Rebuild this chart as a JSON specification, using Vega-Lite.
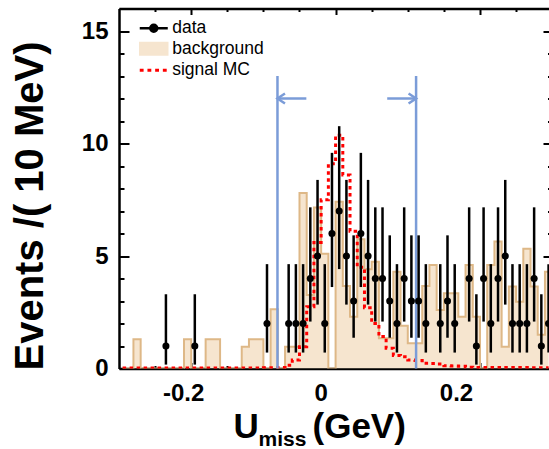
{
  "$schema": "https://vega.github.io/schema/vega-lite/v6.json",
  "width": 430,
  "height": 360,
  "autosize": {"type": "none"},
  "padding": {"left": 119, "top": 8.5, "right": 0, "bottom": 80.5},
  "config": {
    "view": {"stroke": null},
    "font": "Liberation Sans",
    "axis": {
      "grid": false,
      "domainColor": "black",
      "tickColor": "black",
      "domainWidth": 2.5,
      "tickWidth": 2,
      "labelFont": "Liberation Sans",
      "labelFontWeight": "bold",
      "labelFontSize": 24,
      "labelColor": "black",
      "titleFont": "Liberation Sans",
      "titleFontWeight": "bold",
      "titleColor": "black"
    }
  },
  "datasets": {
    "hist": [
      {"x": -0.295, "n": 0, "lo": null, "hi": null, "bkg": 0, "sig": 0.02},
      {"x": -0.285, "n": 0, "lo": null, "hi": null, "bkg": 0, "sig": 0.02},
      {"x": -0.275, "n": 0, "lo": null, "hi": null, "bkg": 1.3, "sig": 0.02},
      {"x": -0.265, "n": 0, "lo": null, "hi": null, "bkg": 0, "sig": 0.02},
      {"x": -0.255, "n": 0, "lo": null, "hi": null, "bkg": 0, "sig": 0.02},
      {"x": -0.245, "n": 0, "lo": null, "hi": null, "bkg": 0, "sig": 0.02},
      {"x": -0.235, "n": 1, "lo": 0.173, "hi": 3.3, "bkg": 0, "sig": 0.02},
      {"x": -0.225, "n": 0, "lo": null, "hi": null, "bkg": 0, "sig": 0.02},
      {"x": -0.215, "n": 0, "lo": null, "hi": null, "bkg": 0, "sig": 0.02},
      {"x": -0.205, "n": 0, "lo": null, "hi": null, "bkg": 1.3, "sig": 0.02},
      {"x": -0.195, "n": 1, "lo": 0.173, "hi": 3.3, "bkg": 0, "sig": 0.02},
      {"x": -0.185, "n": 0, "lo": null, "hi": null, "bkg": 0, "sig": 0.02},
      {"x": -0.175, "n": 0, "lo": null, "hi": null, "bkg": 1.3, "sig": 0.02},
      {"x": -0.165, "n": 0, "lo": null, "hi": null, "bkg": 1.3, "sig": 0.02},
      {"x": -0.155, "n": 0, "lo": null, "hi": null, "bkg": 0, "sig": 0.02},
      {"x": -0.145, "n": 0, "lo": null, "hi": null, "bkg": 0, "sig": 0.02},
      {"x": -0.135, "n": 0, "lo": null, "hi": null, "bkg": 0, "sig": 0.02},
      {"x": -0.125, "n": 0, "lo": null, "hi": null, "bkg": 0.97, "sig": 0.02},
      {"x": -0.115, "n": 0, "lo": null, "hi": null, "bkg": 1.3, "sig": 0.02},
      {"x": -0.105, "n": 0, "lo": null, "hi": null, "bkg": 1.3, "sig": 0.02},
      {"x": -0.095, "n": 2, "lo": 0.708, "hi": 4.638, "bkg": 0, "sig": 0.03},
      {"x": -0.085, "n": 0, "lo": null, "hi": null, "bkg": 2.63, "sig": 0.03},
      {"x": -0.075, "n": 0, "lo": null, "hi": null, "bkg": 0, "sig": 0.05},
      {"x": -0.065, "n": 2, "lo": 0.708, "hi": 4.638, "bkg": 0.97, "sig": 0.15},
      {"x": -0.055, "n": 2, "lo": 0.708, "hi": 4.638, "bkg": 0.97, "sig": 0.38},
      {"x": -0.045, "n": 2, "lo": 0.708, "hi": 4.638, "bkg": 7.8, "sig": 0.97},
      {"x": -0.035, "n": 4, "lo": 2.086, "hi": 7.163, "bkg": 3.27, "sig": 2.75},
      {"x": -0.025, "n": 5, "lo": 2.84, "hi": 8.382, "bkg": 7.16, "sig": 5.6},
      {"x": -0.015, "n": 2, "lo": 0.708, "hi": 4.638, "bkg": 5.1, "sig": 7.5},
      {"x": -0.005, "n": 6, "lo": 3.62, "hi": 9.584, "bkg": 0, "sig": 9.1},
      {"x": 0.005, "n": 7, "lo": 4.419, "hi": 10.77, "bkg": 7.41, "sig": 10.37},
      {"x": 0.015, "n": 5, "lo": 2.84, "hi": 8.382, "bkg": 3.67, "sig": 8.6},
      {"x": 0.025, "n": 3, "lo": 1.367, "hi": 5.918, "bkg": 2.3, "sig": 6.1},
      {"x": 0.035, "n": 6, "lo": 3.62, "hi": 9.584, "bkg": 5.74, "sig": 4.5},
      {"x": 0.045, "n": 5, "lo": 2.84, "hi": 8.382, "bkg": 4.41, "sig": 2.7},
      {"x": 0.055, "n": 4, "lo": 2.086, "hi": 7.163, "bkg": 4.75, "sig": 2.0},
      {"x": 0.065, "n": 4, "lo": 2.086, "hi": 7.163, "bkg": 1.34, "sig": 1.42},
      {"x": 0.075, "n": 3, "lo": 1.367, "hi": 5.918, "bkg": 1.34, "sig": 0.9},
      {"x": 0.085, "n": 2, "lo": 0.708, "hi": 4.638, "bkg": 4.3, "sig": 0.58},
      {"x": 0.095, "n": 4, "lo": 2.086, "hi": 7.163, "bkg": 1.9, "sig": 0.52},
      {"x": 0.105, "n": 3, "lo": 1.367, "hi": 5.918, "bkg": 1.12, "sig": 0.38},
      {"x": 0.115, "n": 3, "lo": 1.367, "hi": 5.918, "bkg": 1.12, "sig": 0.36},
      {"x": 0.125, "n": 2, "lo": 0.708, "hi": 4.638, "bkg": 3.67, "sig": 0.23},
      {"x": 0.135, "n": 0, "lo": null, "hi": null, "bkg": 4.6, "sig": 0.22},
      {"x": 0.145, "n": 2, "lo": 0.708, "hi": 4.638, "bkg": 2.6, "sig": 0.2},
      {"x": 0.155, "n": 3, "lo": 1.367, "hi": 5.918, "bkg": 3.34, "sig": 0.12},
      {"x": 0.165, "n": 2, "lo": 0.708, "hi": 4.638, "bkg": 3.34, "sig": 0.11},
      {"x": 0.175, "n": 0, "lo": null, "hi": null, "bkg": 2.3, "sig": 0.1},
      {"x": 0.185, "n": 4, "lo": 2.086, "hi": 7.163, "bkg": 4.6, "sig": 0.06},
      {"x": 0.195, "n": 1, "lo": 0.173, "hi": 3.3, "bkg": 2.3, "sig": 0.05},
      {"x": 0.205, "n": 4, "lo": 2.086, "hi": 7.163, "bkg": 0, "sig": 0.05},
      {"x": 0.215, "n": 2, "lo": 0.708, "hi": 4.638, "bkg": 4.6, "sig": 0.05},
      {"x": 0.225, "n": 4, "lo": 2.086, "hi": 7.163, "bkg": 5.64, "sig": 0.05},
      {"x": 0.235, "n": 5, "lo": 2.84, "hi": 8.382, "bkg": 0.97, "sig": 0.04},
      {"x": 0.245, "n": 2, "lo": 0.708, "hi": 4.638, "bkg": 3.64, "sig": 0.04},
      {"x": 0.255, "n": 2, "lo": 0.708, "hi": 4.638, "bkg": 2.97, "sig": 0.04},
      {"x": 0.265, "n": 2, "lo": 0.708, "hi": 4.638, "bkg": 5.32, "sig": 0.04},
      {"x": 0.275, "n": 4, "lo": 2.086, "hi": 7.163, "bkg": 3.64, "sig": 0.03},
      {"x": 0.285, "n": 1, "lo": 0.173, "hi": 3.3, "bkg": 1.5, "sig": 0.03},
      {"x": 0.295, "n": 2, "lo": 0.708, "hi": 4.638, "bkg": 4.3, "sig": 0.03}
    ],
    "cuts": [
      {"x": -0.0805, "y": 0, "y2": 13},
      {"x": 0.1115, "y": 0, "y2": 13}
    ],
    "shafts": [
      {"x": -0.0805, "x2": -0.0405, "y": 12},
      {"x": 0.0715, "x2": 0.1115, "y": 12}
    ],
    "heads": [
      {"x": -0.0805, "y": 12, "dir": "left"},
      {"x": 0.1115, "y": 12, "dir": "right"}
    ]
  },
  "resolve": {"axis": {"x": "independent", "y": "independent"}},
  "layer": [
    {
      "data": {"name": "hist"},
      "mark": {"type": "area", "interpolate": "step", "fill": "#f6e5cf", "clip": true},
      "encoding": {
        "x": {
          "field": "x", "type": "quantitative",
          "scale": {"domain": [-0.3, 0.2956], "nice": false, "zero": false},
          "axis": {
            "orient": "bottom", "values": [-0.2, 0, 0.2], "tickSize": -6, "labelPadding": 19,
            "labelOffset": {"condition": [{"test": "datum.value < -0.1", "value": -8}, {"test": "datum.value < 0.1", "value": -15}], "value": -24},
            "labelExpr": "datum.value < 0 ? '-' + format(-datum.value, '.1f') : (datum.value == 0 ? '0' : format(datum.value, '.1f'))",
            "title": "U", "titleFontSize": 35, "titleX": 114, "titleY": 68.5, "titleAlign": "left", "titleBaseline": "alphabetic"
          }
        },
        "y": {
          "field": "bkg", "type": "quantitative",
          "scale": {"domain": [0, 16], "nice": false},
          "axis": {
            "orient": "left", "values": [0, 5, 10, 15], "tickSize": -10, "labelPadding": 21,
            "title": "Events /( 10 MeV)", "titleFontSize": 40, "titleAngle": -90,
            "titleX": -77, "titleY": 197, "titleAlign": "center", "titleBaseline": "alphabetic"
          }
        }
      }
    },
    {
      "data": {"name": "hist"},
      "mark": {"type": "line", "interpolate": "step", "stroke": "#deb887", "strokeWidth": 2, "clip": true},
      "encoding": {
        "x": {
          "field": "x", "type": "quantitative",
          "scale": {"domain": [-0.3, 0.2956], "nice": false, "zero": false},
          "axis": {"orient": "bottom", "values": [-0.25, -0.15, -0.1, -0.05, 0.05, 0.1, 0.15, 0.25], "tickSize": -3, "labels": false, "domain": false, "title": null}
        },
        "y": {
          "field": "bkg", "type": "quantitative",
          "scale": {"domain": [0, 16], "nice": false},
          "axis": {"orient": "left", "values": [1, 2, 3, 4, 6, 7, 8, 9, 11, 12, 13, 14, 16], "tickSize": -5, "labels": false, "domain": false, "title": null}
        }
      }
    },
    {
      "data": {"name": "hist"},
      "mark": {"type": "line", "interpolate": "step", "stroke": "#ff0000", "strokeWidth": 3, "strokeDash": [3.5, 3.5], "clip": true},
      "encoding": {
        "x": {
          "field": "x", "type": "quantitative",
          "scale": {"domain": [-0.3, 0.2956], "nice": false, "zero": false},
          "axis": {"orient": "top", "values": [-0.2, 0, 0.2], "tickSize": -6, "labels": false, "title": null}
        },
        "y": {
          "field": "sig", "type": "quantitative",
          "scale": {"domain": [0, 16], "nice": false},
          "axis": {"orient": "right", "values": [0, 5, 10, 15], "tickSize": -6, "labels": false, "domain": false, "title": null}
        }
      }
    },
    {
      "data": {"name": "cuts"},
      "mark": {"type": "rule", "stroke": "#7b9cd8", "strokeWidth": 2.5},
      "encoding": {
        "x": {
          "field": "x", "type": "quantitative",
          "scale": {"domain": [-0.3, 0.2956], "nice": false, "zero": false},
          "axis": {"orient": "top", "values": [-0.25, -0.15, -0.1, -0.05, 0.05, 0.1, 0.15, 0.25], "tickSize": -3, "labels": false, "domain": false, "title": null}
        },
        "y": {
          "field": "y", "type": "quantitative",
          "scale": {"domain": [0, 16], "nice": false},
          "axis": {"orient": "right", "values": [1, 2, 3, 4, 6, 7, 8, 9, 11, 12, 13, 14, 16], "tickSize": -1.5, "labels": false, "domain": false, "title": null}
        },
        "y2": {"field": "y2"}
      }
    },
    {
      "data": {"name": "shafts"},
      "mark": {"type": "rule", "stroke": "#7b9cd8", "strokeWidth": 2.5},
      "encoding": {
        "x": {
          "field": "x", "type": "quantitative",
          "scale": {"domain": [-0.3, 0.2956], "nice": false, "zero": false},
          "axis": {"orient": "bottom", "ticks": false, "labels": false, "domain": false, "title": "miss", "titleFontSize": 21, "titleX": 139, "titleY": 77, "titleAlign": "left", "titleBaseline": "alphabetic"}
        },
        "x2": {"field": "x2"},
        "y": {
          "field": "y", "type": "quantitative",
          "scale": {"domain": [0, 16], "nice": false},
          "axis": null
        }
      }
    },
    {
      "data": {"name": "heads"},
      "mark": {"type": "point", "filled": false, "stroke": "#7b9cd8", "strokeWidth": 2.5, "size": 100, "opacity": 1},
      "encoding": {
        "x": {
          "field": "x", "type": "quantitative",
          "scale": {"domain": [-0.3, 0.2956], "nice": false, "zero": false},
          "axis": {"orient": "bottom", "ticks": false, "labels": false, "domain": false, "title": "(GeV)", "titleFontSize": 35, "titleX": 193, "titleY": 68.5, "titleAlign": "left", "titleBaseline": "alphabetic"}
        },
        "y": {
          "field": "y", "type": "quantitative",
          "scale": {"domain": [0, 16], "nice": false},
          "axis": null
        },
        "shape": {
          "field": "dir", "type": "nominal",
          "scale": {"domain": ["left", "right"], "range": ["M1.5,-1L0,0L1.5,1", "M-1.5,-1L0,0L-1.5,1"]},
          "legend": null
        }
      }
    },
    {
      "data": {"name": "hist"},
      "transform": [{"filter": "datum.n > 0"}],
      "mark": {"type": "rule", "strokeWidth": 2.5},
      "encoding": {
        "x": {
          "field": "x", "type": "quantitative",
          "scale": {"domain": [-0.3, 0.2956], "nice": false, "zero": false},
          "axis": null
        },
        "y": {
          "field": "lo", "type": "quantitative",
          "scale": {"domain": [0, 16], "nice": false},
          "axis": null
        },
        "y2": {"field": "hi"},
        "color": {
          "datum": "data", "type": "nominal",
          "scale": {"domain": ["data", "background", "signal MC"], "range": ["#000000", "#f6e5cf", "#ff0000"]},
          "legend": {
            "orient": "none", "legendX": 26, "legendY": 11, "title": null, "padding": 0,
            "symbolSize": 196, "labelOffset": 9.7, "rowPadding": 1.5,
            "labelFont": "Liberation Sans", "labelFontSize": 17.5, "labelColor": "black",
            "encode": {
              "symbols": {
                "update": {
                  "shape": {"signal": "datum.value === 'data' ? 'M-2,0H2M0.5,0A0.5,0.5 0 1,1 -0.5,0A0.5,0.5 0 1,1 0.5,0' : (datum.value === 'background' ? 'M-2,-0.9H2V0.9H-2Z' : 'M-2,0H-1.45M-0.9,0H-0.35M0.2,0H0.75M1.3,0H1.85')"},
                  "fill": {"signal": "datum.value === 'data' ? '#000000' : (datum.value === 'background' ? '#f6e5cf' : 'transparent')"},
                  "stroke": {"signal": "datum.value === 'data' ? '#000000' : (datum.value === 'background' ? '#deb887' : '#ff0000')"},
                  "strokeWidth": {"signal": "datum.value === 'background' ? 1.5 : (datum.value === 'data' ? 2.5 : 3)"},
                  "opacity": {"value": 1}
                }
              }
            }
          }
        }
      }
    },
    {
      "data": {"name": "hist"},
      "transform": [{"filter": "datum.n > 0"}],
      "mark": {"type": "point", "shape": "circle", "filled": true, "color": "#000000", "size": 50, "opacity": 1},
      "encoding": {
        "x": {
          "field": "x", "type": "quantitative",
          "scale": {"domain": [-0.3, 0.2956], "nice": false, "zero": false},
          "axis": null
        },
        "y": {
          "field": "n", "type": "quantitative",
          "scale": {"domain": [0, 16], "nice": false},
          "axis": null
        }
      }
    }
  ]
}
